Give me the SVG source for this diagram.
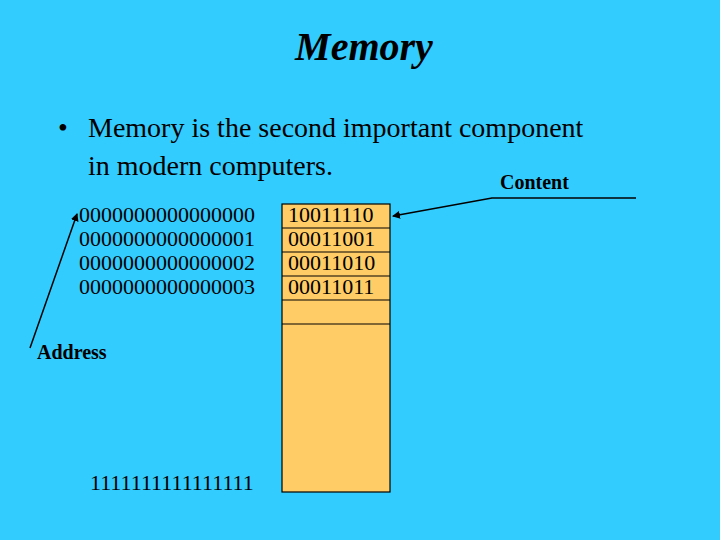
<svg xmlns="http://www.w3.org/2000/svg" width="720" height="540" viewBox="0 0 720 540">
<style>
text{font-family:"Liberation Serif",serif;fill:#000}
.v{font-size:22px}
.l{font-size:20px;font-weight:bold}
.c{stroke:#000;stroke-width:1.5;fill:none}
</style>
<defs><marker id="a" markerWidth="8" markerHeight="8" refX="7" refY="4" orient="auto" markerUnits="userSpaceOnUse"><path d="M0,0L8,4L0,8z" fill="#000"/></marker></defs>
<rect width="720" height="540" fill="#33ccff"/>
<text x="364" y="60" text-anchor="middle" font-size="40" font-weight="bold" font-style="italic">Memory</text>
<text x="58" y="137" font-size="28">•</text>
<text x="88" y="137" font-size="28">Memory is the second important component</text>
<text x="88" y="175" font-size="28">in modern computers.</text>
<g id="memory">
<rect x="282" y="204" width="108" height="288" fill="#ffcc66" stroke="#000" stroke-width="1.2"/>
<path d="M282,228H390M282,252H390M282,276H390M282,300H390M282,324H390" stroke="#000" stroke-width="1.2"/>
<text class="v" x="288" y="222">10011110</text>
<text class="v" x="288" y="246">00011001</text>
<text class="v" x="288" y="270">00011010</text>
<text class="v" x="288" y="294">00011011</text>
</g>
<g id="addresses">
<text class="v" x="79" y="222">0000000000000000</text>
<text class="v" x="79" y="246">0000000000000001</text>
<text class="v" x="79" y="270">0000000000000002</text>
<text class="v" x="79" y="294">0000000000000003</text>
<text class="v" x="90" y="490">1111111111111111</text>
</g>
<g id="labels">
<text class="l" x="37" y="359">Address</text>
<text class="l" x="500" y="189">Content</text>
</g>
<g id="connectors">
<path class="c" d="M636,198H492L393,216" marker-end="url(#a)"/>
<path class="c" d="M30,348L77,214" marker-end="url(#a)"/>
</g>
</svg>
